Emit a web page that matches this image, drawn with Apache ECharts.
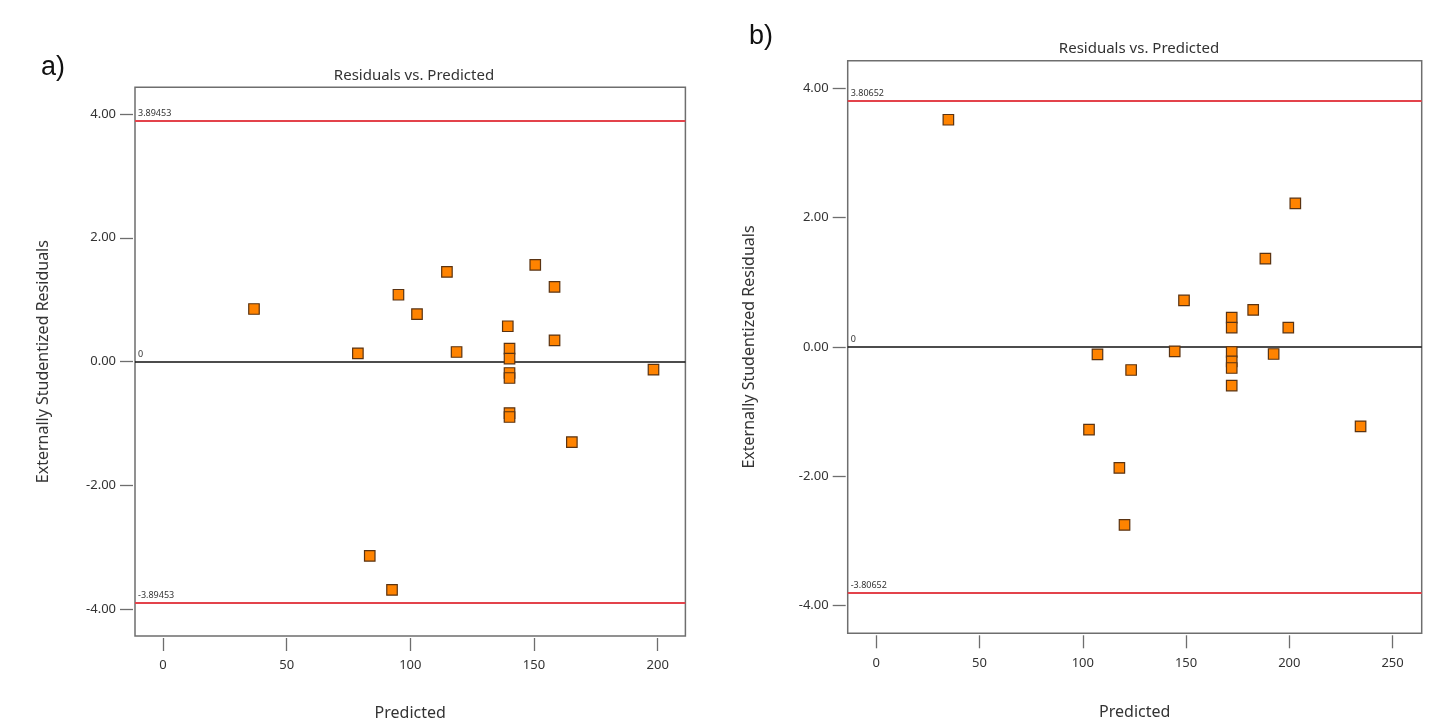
<!DOCTYPE html>
<html>
<head>
<meta charset="utf-8">
<script src="https://cdn.jsdelivr.net/npm/echarts@6/dist/echarts.min.js"></script>
<style>
html,body{margin:0;padding:0;background:#fff;}
#chart{width:1455px;height:726px;}
</style>
</head>
<body>
<div id="chart"></div>
<script>
// ---- data: panel a ----
const predictedA = [36.8, 78.8, 83.6, 92.6, 95.2, 102.7, 114.8, 118.7, 139.4, 140.1, 140.1, 140.1, 140.1, 140.1, 140.1, 150.5, 158.3, 158.3, 165.3, 198.3];
const residualA  = [0.85, 0.135, -3.136, -3.685, 1.08, 0.766, 1.45, 0.156, 0.572, 0.21, 0.05, -0.183, -0.264, -0.83, -0.894, 1.564, 1.208, 0.345, -1.30, -0.13];
const limitsA = [3.89453, 0, -3.89453];
// ---- data: panel b ----
const predictedB = [34.9, 103.0, 107.1, 117.7, 120.2, 123.4, 144.5, 149.0, 172.1, 172.1, 172.1, 172.1, 172.1, 172.1, 182.5, 188.4, 192.4, 199.5, 202.9, 234.5];
const residualB  = [3.516, -1.278, -0.113, -1.871, -2.753, -0.356, -0.067, 0.72, 0.456, 0.30, -0.077, -0.222, -0.325, -0.598, 0.575, 1.367, -0.108, 0.30, 2.222, -1.227];
const limitsB = [3.80652, 0, -3.80652];
// ---- tick labels ----
const yTicks = [-4, -2, 0, 2, 4];
const xTicksA = [0, 50, 100, 150, 200];
const xTicksB = [0, 50, 100, 150, 200, 250];

const FONT = '"Noto Sans", "Open Sans", sans-serif';
const BOX = '#6e6e6e';

function pairs(xs, ys){ return xs.map((x,i)=>[x, ys[i]]); }

function xAxisCfg(idx, min, max, ticks, gap){
  return {
    type:'value', gridIndex:idx, min:min, max:max, offset:2,
    name:'Predicted', nameLocation:'middle', nameGap:gap,
    nameTextStyle:{fontFamily:FONT, fontSize:16, color:'#333'},
    axisLine:{show:false, onZero:false},
    axisTick:{show:true, length:13, lineStyle:{color:BOX, width:1.3}, customValues:ticks},
    axisLabel:{fontFamily:FONT, fontSize:13, color:'#333', margin:21, customValues:ticks},
    splitLine:{show:false}
  };
}
function yAxisCfg(idx, gap){
  return {
    type:'value', gridIndex:idx, min:-4.43, max:4.43, offset:2,
    name:'Externally Studentized Residuals', nameLocation:'middle', nameGap:gap,
    nameTextStyle:{fontFamily:FONT, fontSize:16, color:'#333'},
    axisLine:{show:false, onZero:false},
    axisTick:{show:true, length:13, lineStyle:{color:BOX, width:1.3}, customValues:yTicks},
    axisLabel:{fontFamily:FONT, fontSize:13, color:'#333', margin:17, customValues:yTicks,
      formatter:v=>Number(v).toFixed(2)},
    splitLine:{show:false}
  };
}
function markLines(limits){
  return {
    silent:true, symbol:'none', animation:false, precision:5,
    label:{show:true, position:'insideStartTop', distance:[3,3], fontFamily:FONT, fontSize:9, color:'#333'},
    data: limits.map(v=>({
      yAxis:v,
      label:{formatter:String(v)},
      lineStyle: v===0 ? {color:'#111', width:1.6, type:'solid'} : {color:'#e3434b', width:2, type:'solid'}
    }))
  };
}
function scatterCfg(idx, data, limits){
  return {
    type:'scatter', xAxisIndex:idx, yAxisIndex:idx, data:data,
    symbol:'rect', symbolSize:10.5, animation:false,
    itemStyle:{color:'#ff8300', borderColor:'#5a3312', borderWidth:1.2, opacity:1},
    markLine: markLines(limits), z:5
  };
}

const chart = echarts.init(document.getElementById('chart'), null, {renderer:'canvas'});
chart.setOption({
  backgroundColor:'#fff',
  animation:false,
  title:[
    {text:'a)', left:36, top:49, textStyle:{fontFamily:'"Liberation Sans", Arial, sans-serif', fontSize:27, fontWeight:'normal', color:'#111'}},
    {text:'b)', left:744, top:18, textStyle:{fontFamily:'"Liberation Sans", Arial, sans-serif', fontSize:27, fontWeight:'normal', color:'#111'}},
    {text:'Residuals vs. Predicted', left:409, top:63, textAlign:'center', textStyle:{fontFamily:FONT, fontSize:15, fontWeight:'normal', color:'#333'}},
    {text:'Residuals vs. Predicted', left:1134, top:36, textAlign:'center', textStyle:{fontFamily:FONT, fontSize:15, fontWeight:'normal', color:'#333'}}
  ],
  grid:[
    {left:135, top:87.3, width:550.4, height:549.4, show:true, borderColor:BOX, borderWidth:1.5, backgroundColor:'#fff'},
    {left:847.7, top:60.7, width:574, height:572.6, show:true, borderColor:BOX, borderWidth:1.5, backgroundColor:'#fff'}
  ],
  xAxis:[ xAxisCfg(0, -11.3, 211.2, xTicksA, 67), xAxisCfg(1, -13.85, 264.1, xTicksB, 69) ],
  yAxis:[ yAxisCfg(0, 82), yAxisCfg(1, 88) ],
  series:[
    scatterCfg(0, pairs(predictedA, residualA), limitsA),
    scatterCfg(1, pairs(predictedB, residualB), limitsB)
  ]
});
</script>
</body>
</html>
